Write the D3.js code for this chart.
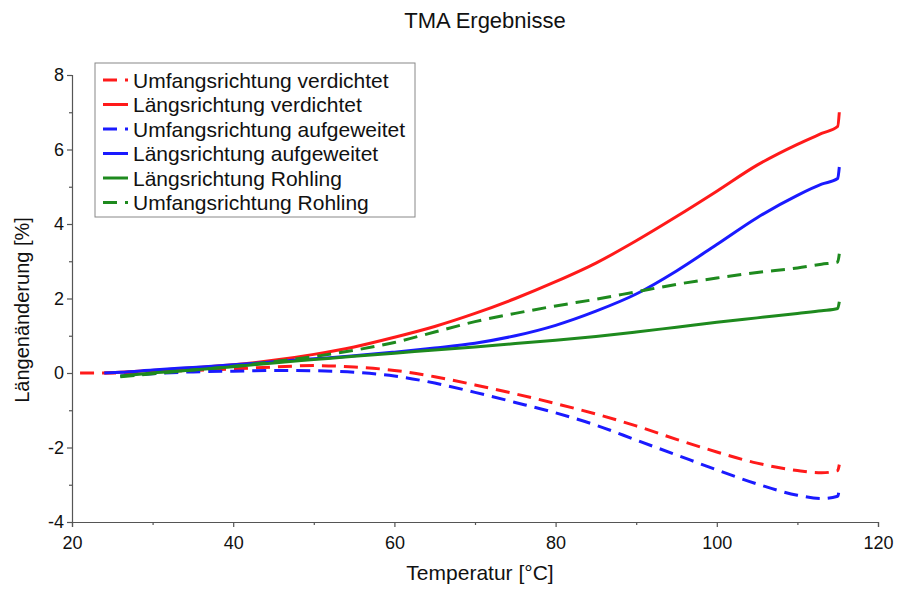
<!DOCTYPE html>
<html>
<head>
<meta charset="utf-8">
<script src="https://cdn.jsdelivr.net/npm/d3@7/dist/d3.min.js"></script>
<style>
  html, body { margin: 0; padding: 0; background: #fff; }
  svg { display: block; }
  text { font-family: "Liberation Sans", Arial, sans-serif; fill: #111; }
</style>
</head>
<body>
<svg id="chart" width="899" height="589"></svg>
<script>
// Temperature sample points [°C]; the last point closes each run with a short upward hook
const temps = [21, 24, 26, 30, 35, 40, 45, 50, 55, 60, 65, 70, 75, 80, 85, 90, 95, 100, 105, 110, 113, 115, 115.2];

// Length change [%] per measurement series (null = not yet recorded)
const umfangVerdichtet = [0.0, 0.0, 0.0, 0.03, 0.07, 0.11, 0.16, 0.2, 0.16, 0.07, -0.1, -0.32, -0.56, -0.82, -1.1, -1.42, -1.78, -2.12, -2.42, -2.62, -2.68, -2.62, -2.46];
const laengsVerdichtet = [null, 0.0, 0.02, 0.07, 0.14, 0.22, 0.34, 0.5, 0.7, 0.96, 1.25, 1.6, 2.0, 2.45, 2.95, 3.55, 4.2, 4.88, 5.58, 6.14, 6.43, 6.62, 7.0];
const umfangAufgeweitet = [null, null, -0.08, -0.02, 0.03, 0.05, 0.07, 0.06, 0.02, -0.08, -0.27, -0.52, -0.79, -1.07, -1.4, -1.8, -2.2, -2.6, -2.98, -3.28, -3.37, -3.31, -3.09];
const laengsAufgeweitet = [null, 0.0, 0.02, 0.08, 0.15, 0.22, 0.3, 0.38, 0.46, 0.56, 0.67, 0.8, 1.0, 1.28, 1.66, 2.12, 2.74, 3.45, 4.17, 4.77, 5.07, 5.22, 5.53];
const laengsRohling = [null, null, -0.08, 0.0, 0.08, 0.17, 0.27, 0.36, 0.45, 0.53, 0.62, 0.7, 0.79, 0.88, 0.98, 1.1, 1.23, 1.36, 1.48, 1.6, 1.67, 1.73, 1.91];
const umfangRohling = [null, null, -0.1, -0.02, 0.08, 0.18, 0.3, 0.44, 0.61, 0.82, 1.1, 1.38, 1.6, 1.8, 1.98, 2.18, 2.38, 2.55, 2.7, 2.82, 2.92, 2.98, 3.2];

const seriesNames = [
  "Umfangsrichtung verdichtet",
  "Längsrichtung verdichtet",
  "Umfangsrichtung aufgeweitet",
  "Längsrichtung aufgeweitet",
  "Längsrichtung Rohling",
  "Umfangsrichtung Rohling"
];
const seriesValues = [umfangVerdichtet, laengsVerdichtet, umfangAufgeweitet, laengsAufgeweitet, laengsRohling, umfangRohling];
const seriesColors = ["#ff1a1a", "#ff1a1a", "#1a1aff", "#1a1aff", "#1e8a1e", "#1e8a1e"];
const seriesDashed = [true, false, true, false, false, true];

const xTicks = [20, 40, 60, 80, 100, 120];
const yTicks = [-4, -2, 0, 2, 4, 6, 8];

const title = "TMA Ergebnisse";
const xTitle = "Temperatur [°C]";
const yTitle = "Längenänderung [%]";

const svg = d3.select("#chart");
const plot = { left: 72, right: 878, top: 75, bottom: 522 };

const x = d3.scaleLinear().domain([20, 120]).range([plot.left, plot.right]);
const y = d3.scaleLinear().domain([-4, 8]).range([plot.bottom, plot.top]);

const axisColor = "#555";
const plainNumber = d => String(d);

// Y axis: labelled ticks every 2, minor ticks in between
svg.append("g").attr("transform", `translate(${plot.left},0)`)
  .call(d3.axisLeft(y).tickValues(yTicks).tickSize(5).tickPadding(3).tickFormat(plainNumber));
svg.append("g").attr("transform", `translate(${plot.left},0)`)
  .call(d3.axisLeft(y).tickValues(d3.range(-3, 8, 2)).tickSize(3).tickFormat(""))
  .call(g => g.select(".domain").remove());

// X axis: labelled ticks every 20, minor ticks in between
svg.append("g").attr("transform", `translate(0,${plot.bottom})`)
  .call(d3.axisBottom(x).tickValues(xTicks).tickSize(5).tickPadding(9).tickFormat(plainNumber));
svg.append("g").attr("transform", `translate(0,${plot.bottom})`)
  .call(d3.axisBottom(x).tickValues(d3.range(30, 120, 20)).tickSize(3).tickFormat(""))
  .call(g => g.select(".domain").remove());

svg.selectAll(".domain").attr("stroke", axisColor).attr("stroke-width", 1.2);
svg.selectAll(".tick line").attr("stroke", axisColor).attr("stroke-width", 1.2);
svg.selectAll(".tick text").style("font-size", "18px").style("font-family", "'Liberation Sans', Arial, sans-serif").attr("fill", "#111");

// Measurement curves
const line = d3.line()
  .defined(d => d.v !== null)
  .x(d => x(d.t))
  .y(d => y(d.v))
  .curve(d3.curveMonotoneX);

seriesValues.forEach((vals, i) => {
  const pts = temps.map((t, j) => ({ t, v: vals[j] }));
  svg.append("path")
    .datum(pts)
    .attr("fill", "none")
    .attr("stroke", seriesColors[i])
    .attr("stroke-width", 3)
    .attr("stroke-dasharray", seriesDashed[i] ? "14,8" : null)
    .attr("d", line);
});

// Legend
const legend = svg.append("g");
const legX = 95, legY = 63, legW = 320, legH = 154, rowH = 24.5;
legend.append("rect")
  .attr("x", legX).attr("y", legY).attr("width", legW).attr("height", legH)
  .attr("fill", "#fff").attr("stroke", "#888").attr("stroke-width", 1);
seriesNames.forEach((name, i) => {
  const cy = legY + 17 + i * rowH;
  legend.append("line")
    .attr("x1", legX + 8).attr("x2", legX + 33)
    .attr("y1", cy).attr("y2", cy)
    .attr("stroke", seriesColors[i]).attr("stroke-width", 3)
    .attr("stroke-dasharray", seriesDashed[i] ? "14,8" : null);
  legend.append("text")
    .attr("x", legX + 38).attr("y", cy + 7.5)
    .style("font-size", "21px")
    .text(name);
});

// Titles
svg.append("text").attr("x", 485).attr("y", 28).attr("text-anchor", "middle")
  .style("font-size", "22px").text(title);
svg.append("text").attr("x", 480).attr("y", 580).attr("text-anchor", "middle")
  .style("font-size", "21px").text(xTitle);
svg.append("text").attr("transform", "translate(29,310) rotate(-90)").attr("text-anchor", "middle")
  .style("font-size", "20px").text(yTitle);
</script>
</body>
</html>
